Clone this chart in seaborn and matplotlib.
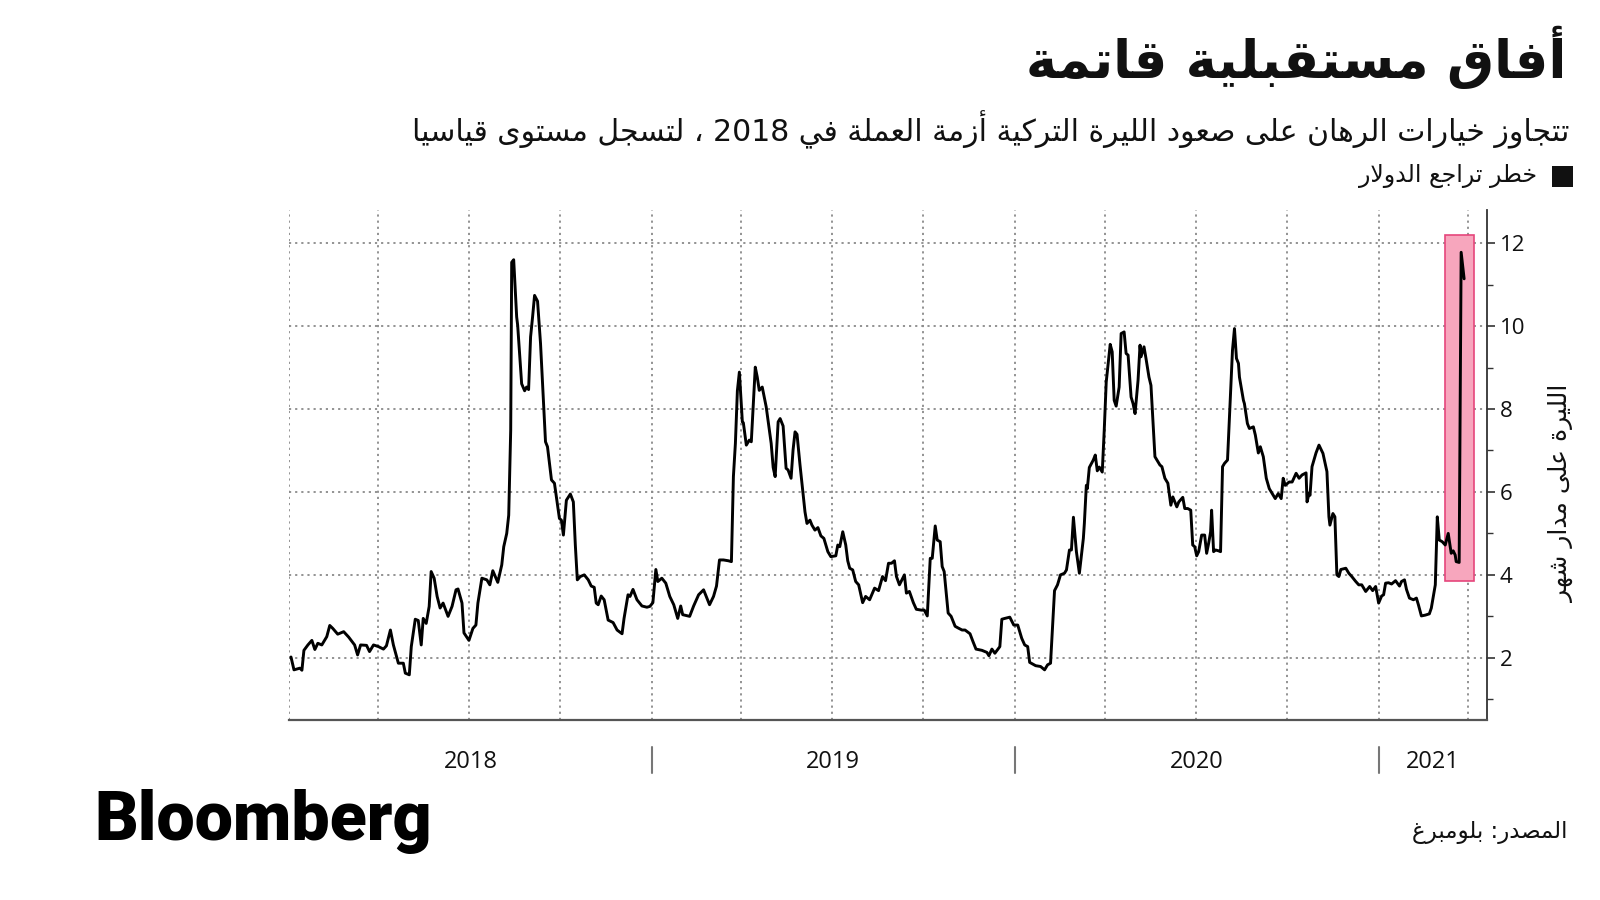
import re
import pandas as pd
import matplotlib
matplotlib.use("Agg")
import matplotlib.pyplot as plt
import matplotlib.dates as mdates
from matplotlib.patches import Rectangle
import seaborn as sns

# ---- values (1-month risk reversal, lira) ----
dates = [
    "2018-01-03", "2018-01-06", "2018-01-12", "2018-01-14", "2018-01-16", "2018-01-20", "2018-01-24", "2018-01-27",
    "2018-01-30", "2018-02-03", "2018-02-08", "2018-02-11", "2018-02-14", "2018-02-19", "2018-02-25", "2018-03-02",
    "2018-03-08", "2018-03-11", "2018-03-14", "2018-03-20", "2018-03-23", "2018-03-27", "2018-04-01", "2018-04-06",
    "2018-04-09", "2018-04-13", "2018-04-16", "2018-04-21", "2018-04-26", "2018-04-28", "2018-05-02", "2018-05-04",
    "2018-05-08", "2018-05-11", "2018-05-14", "2018-05-16", "2018-05-19", "2018-05-22", "2018-05-24", "2018-05-27",
    "2018-05-30", "2018-06-02", "2018-06-05", "2018-06-10", "2018-06-14", "2018-06-18", "2018-06-20", "2018-06-24",
    "2018-06-26", "2018-07-01", "2018-07-05", "2018-07-08", "2018-07-10", "2018-07-14", "2018-07-19", "2018-07-22",
    "2018-07-25", "2018-07-30", "2018-08-03", "2018-08-05", "2018-08-08", "2018-08-10", "2018-08-12", "2018-08-13",
    "2018-08-15", "2018-08-18", "2018-08-19", "2018-08-23", "2018-08-26", "2018-08-28", "2018-08-30", "2018-09-01",
    "2018-09-03", "2018-09-05", "2018-09-08", "2018-09-11", "2018-09-16", "2018-09-18", "2018-09-22", "2018-09-25",
    "2018-09-30", "2018-10-02", "2018-10-04", "2018-10-07", "2018-10-11", "2018-10-14", "2018-10-16", "2018-10-18",
    "2018-10-21", "2018-10-25", "2018-10-29", "2018-11-01", "2018-11-04", "2018-11-06", "2018-11-08", "2018-11-11",
    "2018-11-14", "2018-11-18", "2018-11-23", "2018-11-27", "2018-12-02", "2018-12-04", "2018-12-08", "2018-12-10",
    "2018-12-13", "2018-12-17", "2018-12-22", "2018-12-27", "2018-12-30",
    "2019-01-02", "2019-01-05", "2019-01-07", "2019-01-11", "2019-01-15", "2019-01-19", "2019-01-23", "2019-01-27",
    "2019-01-30", "2019-02-01", "2019-02-08", "2019-02-12", "2019-02-17", "2019-02-22", "2019-02-28", "2019-03-04",
    "2019-03-07", "2019-03-10", "2019-03-14", "2019-03-19", "2019-03-22", "2019-03-24", "2019-03-26", "2019-03-28",
    "2019-03-30", "2019-04-02", "2019-04-03", "2019-04-06", "2019-04-09", "2019-04-11", "2019-04-15", "2019-04-17",
    "2019-04-19", "2019-04-22", "2019-04-24", "2019-04-26", "2019-05-01", "2019-05-03", "2019-05-05", "2019-05-08",
    "2019-05-10", "2019-05-13", "2019-05-16", "2019-05-18", "2019-05-21", "2019-05-23", "2019-05-25", "2019-05-27",
    "2019-05-30", "2019-06-02", "2019-06-04", "2019-06-06", "2019-06-09", "2019-06-11", "2019-06-14", "2019-06-17",
    "2019-06-20", "2019-06-23", "2019-06-27", "2019-06-30", "2019-07-05", "2019-07-07", "2019-07-09", "2019-07-12",
    "2019-07-15", "2019-07-17", "2019-07-19", "2019-07-22", "2019-07-25", "2019-07-28", "2019-08-01", "2019-08-04",
    "2019-08-08", "2019-08-13", "2019-08-17", "2019-08-21", "2019-08-24", "2019-08-27", "2019-08-30", "2019-09-02",
    "2019-09-04", "2019-09-07", "2019-09-12", "2019-09-14", "2019-09-17", "2019-09-21", "2019-09-24", "2019-09-29",
    "2019-10-02", "2019-10-05", "2019-10-08", "2019-10-10", "2019-10-13", "2019-10-15", "2019-10-18", "2019-10-20",
    "2019-10-22", "2019-10-26", "2019-10-29", "2019-11-02", "2019-11-05", "2019-11-09", "2019-11-12", "2019-11-17",
    "2019-11-20", "2019-11-23", "2019-11-29", "2019-12-04", "2019-12-06", "2019-12-09", "2019-12-12", "2019-12-17",
    "2019-12-19", "2019-12-22", "2019-12-27", "2019-12-31",
    "2020-01-04", "2020-01-08", "2020-01-11", "2020-01-14", "2020-01-16", "2020-01-22", "2020-01-27", "2020-01-31",
    "2020-02-03", "2020-02-06", "2020-02-08", "2020-02-10", "2020-02-13", "2020-02-16", "2020-02-20", "2020-02-22",
    "2020-02-25", "2020-02-27", "2020-02-29", "2020-03-03", "2020-03-06", "2020-03-10", "2020-03-11", "2020-03-13",
    "2020-03-14", "2020-03-16", "2020-03-20", "2020-03-22", "2020-03-24", "2020-03-26", "2020-03-29", "2020-03-31",
    "2020-04-02", "2020-04-06", "2020-04-08", "2020-04-10", "2020-04-12", "2020-04-15", "2020-04-17", "2020-04-20",
    "2020-04-22", "2020-04-24", "2020-04-27", "2020-04-29", "2020-05-01", "2020-05-04", "2020-05-06", "2020-05-07",
    "2020-05-10", "2020-05-12", "2020-05-15", "2020-05-17", "2020-05-21", "2020-05-24", "2020-05-26", "2020-05-28",
    "2020-05-31", "2020-06-03", "2020-06-06", "2020-06-08", "2020-06-12", "2020-06-14", "2020-06-18", "2020-06-20",
    "2020-06-23", "2020-06-26", "2020-06-28", "2020-06-30", "2020-07-02", "2020-07-04", "2020-07-07", "2020-07-10",
    "2020-07-12", "2020-07-14", "2020-07-16", "2020-07-17", "2020-07-19", "2020-07-21", "2020-07-24", "2020-07-26",
    "2020-07-28", "2020-07-30", "2020-08-02", "2020-08-04", "2020-08-07", "2020-08-09", "2020-08-11", "2020-08-13",
    "2020-08-14", "2020-08-18", "2020-08-19", "2020-08-22", "2020-08-24", "2020-08-28", "2020-08-30", "2020-09-02",
    "2020-09-04", "2020-09-07", "2020-09-10", "2020-09-13", "2020-09-16", "2020-09-19", "2020-09-22", "2020-09-25",
    "2020-09-27", "2020-09-29", "2020-10-03", "2020-10-06", "2020-10-10", "2020-10-13", "2020-10-16", "2020-10-20",
    "2020-10-21", "2020-10-23", "2020-10-24", "2020-10-26", "2020-10-30", "2020-11-02", "2020-11-06", "2020-11-10",
    "2020-11-12", "2020-11-13", "2020-11-16", "2020-11-18", "2020-11-20", "2020-11-22", "2020-11-24", "2020-11-29",
    "2020-12-02", "2020-12-05", "2020-12-09", "2020-12-12", "2020-12-15", "2020-12-19", "2020-12-23", "2020-12-26",
    "2020-12-29",
    "2021-01-01", "2021-01-04", "2021-01-06", "2021-01-08", "2021-01-11", "2021-01-14", "2021-01-18", "2021-01-22",
    "2021-01-24", "2021-01-27", "2021-01-29", "2021-02-01", "2021-02-05", "2021-02-08", "2021-02-10", "2021-02-13",
    "2021-02-17", "2021-02-21", "2021-02-23", "2021-02-27", "2021-03-01", "2021-03-03", "2021-03-06", "2021-03-09",
    "2021-03-12", "2021-03-15", "2021-03-17", "2021-03-19", "2021-03-20", "2021-03-23", "2021-03-25", "2021-03-28",
]
values = [
    2.02, 1.71, 1.75, 1.70, 2.18, 2.31, 2.42, 2.20,
    2.35, 2.31, 2.51, 2.78, 2.71, 2.57, 2.63, 2.50,
    2.31, 2.07, 2.31, 2.30, 2.15, 2.31, 2.27, 2.21,
    2.29, 2.67, 2.31, 1.87, 1.87, 1.63, 1.59, 2.27,
    2.93, 2.90, 2.31, 2.95, 2.83, 3.24, 4.08, 3.92,
    3.48, 3.20, 3.32, 3.00, 3.24, 3.64, 3.66, 3.32,
    2.60, 2.42, 2.71, 2.79, 3.32, 3.92, 3.88, 3.76,
    4.10, 3.82, 4.24, 4.68, 5.00, 5.44, 7.49, 11.54,
    11.60, 10.22, 10.02, 8.61, 8.44, 8.53, 8.47, 9.74,
    10.22, 10.74, 10.60, 9.58, 7.21, 7.09, 6.29, 6.21,
    5.36, 5.32, 4.96, 5.80, 5.95, 5.76, 4.72, 3.88,
    3.96, 4.00, 3.88, 3.73, 3.70, 3.32, 3.28, 3.49,
    3.40, 2.91, 2.85, 2.67, 2.58, 2.95, 3.52, 3.48,
    3.65, 3.40, 3.25, 3.22, 3.24,
    3.33, 4.13, 3.84, 3.92, 3.80, 3.48, 3.28, 2.95,
    3.25, 3.04, 3.00, 3.25, 3.52, 3.64, 3.28, 3.48,
    3.73, 4.36, 4.36, 4.34, 4.32, 6.37, 7.17, 8.44,
    8.89, 7.69, 7.67, 7.13, 7.25, 7.21, 9.01, 8.77,
    8.45, 8.53, 8.29, 8.05, 7.17, 6.59, 6.37, 7.69,
    7.77, 7.59, 6.57, 6.53, 6.33, 7.01, 7.45, 7.39,
    6.65, 5.96, 5.52, 5.24, 5.32, 5.20, 5.08, 5.14,
    4.94, 4.88, 4.56, 4.44, 4.46, 4.72, 4.68, 5.04,
    4.72, 4.34, 4.16, 4.12, 3.84, 3.76, 3.33, 3.48,
    3.40, 3.68, 3.62, 3.96, 3.86, 4.28, 4.28, 4.34,
    3.96, 3.76, 4.00, 3.56, 3.60, 3.33, 3.17, 3.15,
    3.15, 3.01, 4.40, 4.40, 5.18, 4.84, 4.80, 4.20,
    4.08, 3.08, 3.00, 2.76, 2.72, 2.67, 2.67, 2.58,
    2.39, 2.21, 2.18, 2.13, 2.05, 2.21, 2.11, 2.27,
    2.93, 2.95, 2.98, 2.79,
    2.79, 2.47, 2.31, 2.27, 1.89, 1.81, 1.79, 1.71,
    1.83, 1.87, 2.75, 3.62, 3.76, 4.00, 4.04, 4.12,
    4.60, 4.60, 5.39, 4.56, 4.04, 4.88, 5.24, 6.16,
    6.08, 6.59, 6.77, 6.89, 6.51, 6.60, 6.48, 7.49,
    8.65, 9.56, 9.38, 8.21, 8.07, 8.53, 9.82, 9.86,
    9.34, 9.30, 8.29, 8.13, 7.89, 8.69, 9.54, 9.26,
    9.50, 9.22, 8.77, 8.57, 6.85, 6.73, 6.65, 6.61,
    6.33, 6.21, 5.68, 5.88, 5.64, 5.76, 5.87, 5.60,
    5.60, 5.56, 4.72, 4.68, 4.46, 4.56, 4.96, 4.96,
    4.52, 4.76, 5.04, 5.56, 4.56, 4.60, 4.58, 4.56,
    6.61, 6.69, 6.77, 7.81, 9.42, 9.94, 9.22, 9.10,
    8.77, 8.21, 8.13, 7.65, 7.53, 7.57, 7.37, 6.94,
    7.09, 6.85, 6.33, 6.08, 5.96, 5.84, 5.96, 5.84,
    6.33, 6.16, 6.24, 6.24, 6.45, 6.33, 6.41, 6.46,
    5.76, 5.96, 5.92, 6.61, 6.94, 7.13, 6.93, 6.49,
    5.40, 5.20, 5.48, 5.40, 4.00, 3.96, 4.13, 4.16,
    4.04, 3.96, 3.84, 3.76, 3.76, 3.60, 3.72, 3.62,
    3.72,
    3.32, 3.49, 3.52, 3.80, 3.81, 3.78, 3.86, 3.73,
    3.84, 3.88, 3.65, 3.44, 3.40, 3.44, 3.28, 3.01,
    3.03, 3.06, 3.20, 3.76, 5.40, 4.84, 4.80, 4.72,
    5.00, 4.52, 4.58, 4.48, 4.32, 4.30, 11.78, 11.14,
]

year_labels = ["2018", "2019", "2020", "2021"]
y_ticks = [2, 4, 6, 8, 10, 12]
highlight_dates = ["2021-03-09", "2021-04-07"]
highlight_range = [3.85, 12.2]

title = "أفاق مستقبلية قاتمة"
subtitle = "تتجاوز خيارات الرهان على صعود الليرة التركية أزمة العملة في 2018 ، لتسجل مستوى قياسيا"
legend_label = "خطر تراجع الدولار"
y_label = "الليرة على مدار شهر"
source = "المصدر: بلومبرغ"

# ---- tiny Arabic shaper (matplotlib has no complex text layout) ----
# isolated, final, initial, medial presentation forms
FORMS = {
    "ا": ("\uFE8D", "\uFE8E", None, None), "أ": ("\uFE83", "\uFE84", None, None),
    "ب": ("\uFE8F", "\uFE90", "\uFE91", "\uFE92"), "ة": ("\uFE93", "\uFE94", None, None),
    "ت": ("\uFE95", "\uFE96", "\uFE97", "\uFE98"), "ج": ("\uFE9D", "\uFE9E", "\uFE9F", "\uFEA0"),
    "خ": ("\uFEA5", "\uFEA6", "\uFEA7", "\uFEA8"), "د": ("\uFEA9", "\uFEAA", None, None),
    "ر": ("\uFEAD", "\uFEAE", None, None), "ز": ("\uFEAF", "\uFEB0", None, None),
    "س": ("\uFEB1", "\uFEB2", "\uFEB3", "\uFEB4"), "ش": ("\uFEB5", "\uFEB6", "\uFEB7", "\uFEB8"),
    "ص": ("\uFEB9", "\uFEBA", "\uFEBB", "\uFEBC"), "ط": ("\uFEC1", "\uFEC2", "\uFEC3", "\uFEC4"),
    "ع": ("\uFEC9", "\uFECA", "\uFECB", "\uFECC"), "غ": ("\uFECD", "\uFECE", "\uFECF", "\uFED0"),
    "ف": ("\uFED1", "\uFED2", "\uFED3", "\uFED4"), "ق": ("\uFED5", "\uFED6", "\uFED7", "\uFED8"),
    "ك": ("\uFED9", "\uFEDA", "\uFEDB", "\uFEDC"), "ل": ("\uFEDD", "\uFEDE", "\uFEDF", "\uFEE0"),
    "م": ("\uFEE1", "\uFEE2", "\uFEE3", "\uFEE4"), "ن": ("\uFEE5", "\uFEE6", "\uFEE7", "\uFEE8"),
    "ه": ("\uFEE9", "\uFEEA", "\uFEEB", "\uFEEC"), "و": ("\uFEED", "\uFEEE", None, None),
    "ى": ("\uFEEF", "\uFEF0", None, None), "ي": ("\uFEF1", "\uFEF2", "\uFEF3", "\uFEF4"),
}
LAM_ALEF = {"ا": ("\uFEFB", "\uFEFC"), "أ": ("\uFEF7", "\uFEF8")}


def joins_next(c):
    return c in FORMS and FORMS[c][2] is not None


def ar(text):
    out = []
    i = 0
    while i < len(text):
        c = text[i]
        prev = text[i - 1] if i > 0 else ""
        nxt = text[i + 1] if i + 1 < len(text) else ""
        if c == "ل" and nxt in LAM_ALEF:
            iso, fin = LAM_ALEF[nxt]
            out.append(fin if joins_next(prev) else iso)
            i += 2
            continue
        if c in FORMS:
            iso, fin, ini, med = FORMS[c]
            p = joins_next(prev)
            q = ini is not None and nxt in FORMS
            out.append(med if p and q else fin if p else ini if q else iso)
        else:
            out.append(c)
        i += 1
    runs = re.findall(r"[0-9A-Za-z]+|.", "".join(out))
    return "".join(reversed(runs))


# ---- plot ----
sns.set_style("white")
plt.rcParams["font.family"] = ["Open Sans", "DejaVu Sans"]
AR = ["DejaVu Sans"]

df = pd.DataFrame({"date": pd.to_datetime(dates), "risk": values})

fig = plt.figure(figsize=(16, 9), dpi=100)
ax = fig.add_axes([289 / 1600, 180 / 900, 1198 / 1600, 510 / 900])

x0 = pd.Timestamp("2018-01-01")
x1 = pd.Timestamp("2021-04-20")

h0, h1 = pd.to_datetime(highlight_dates)
ax.add_patch(Rectangle((mdates.date2num(h0), highlight_range[0]),
                       mdates.date2num(h1) - mdates.date2num(h0),
                       highlight_range[1] - highlight_range[0],
                       facecolor="#f7a6bd", edgecolor="#e5467c", linewidth=1.2, zorder=1.5))

sns.lineplot(data=df, x="date", y="risk", ax=ax, color="black", linewidth=2.1, zorder=3)

ax.set_xlim(x0, x1)
ax.set_ylim(0.5, 12.8)

# axes / spines
for s in ["top", "left"]:
    ax.spines[s].set_visible(False)
ax.spines["right"].set_color("#333333")
ax.spines["bottom"].set_color("#555555")
ax.spines["right"].set_linewidth(1.3)
ax.spines["bottom"].set_linewidth(1.6)

ax.yaxis.tick_right()
ax.set_yticks(y_ticks)
ax.set_yticks([1, 3, 5, 7, 9, 11], minor=True)
ax.tick_params(axis="y", which="major", length=6, width=1.2, color="#333333",
               labelsize=16, labelcolor="#111111", pad=3)
ax.tick_params(axis="y", which="minor", length=4, width=1.0, color="#333333")

ax.xaxis.set_major_locator(mdates.MonthLocator(bymonth=[1, 4, 7, 10]))
ax.xaxis.set_minor_locator(mdates.MonthLocator())
ax.tick_params(axis="x", which="both", length=3, width=1.0, color="#555555", labelbottom=False)

ax.grid(True, which="major", axis="both", linestyle=(0, (1.2, 2.2)), color="#8a8a8a", linewidth=1.3)
ax.set_xlabel("")
ax.set_ylabel(ar(y_label), family=AR, fontsize=18, rotation=90, color="#111111")
ax.yaxis.set_label_position("right")
ax.yaxis.set_label_coords(1.052, 0.445)

# year labels and separators under the axis
xt = ax.get_xaxis_transform()
for i, yl in enumerate(year_labels):
    start = pd.Timestamp(f"{yl}-01-01")
    end = min(pd.Timestamp(f"{int(yl) + 1}-01-01"), x1)
    mid = start + (end - start) / 2
    ax.text(mid, -0.083, yl, transform=xt, ha="center", va="center", fontsize=17, color="#111111")
    if i > 0:
        ax.plot([start, start], [-0.053, -0.104], transform=xt, color="#777777",
                linewidth=1.5, clip_on=False)

# headings
fig.text(1566 / 1600, 1 - 57 / 900, ar(title), family=AR, fontweight="bold", fontsize=38,
         ha="right", va="center", color="#111111")
fig.text(1569 / 1600, 1 - 130 / 900, ar(subtitle), family=AR, fontsize=21.5,
         ha="right", va="center", color="#111111")
fig.add_artist(Rectangle((1552 / 1600, 1 - 187 / 900), 21 / 1600, 21 / 900,
                         transform=fig.transFigure, facecolor="#111111", edgecolor="none"))
fig.text(1537 / 1600, 1 - 176 / 900, ar(legend_label), family=AR, fontsize=17,
         ha="right", va="center", color="#111111")

# footer
fig.text(94 / 1600, 1 - 840 / 900, "Bloomberg", family=["Roboto", "DejaVu Sans"], fontweight="heavy",
         fontsize=49, ha="left", va="baseline", color="black")
fig.text(1568 / 1600, 1 - 833 / 900, ar(source), family=AR, fontsize=16.5,
         ha="right", va="center", color="#111111")

fig.savefig("out.png", dpi=100)
